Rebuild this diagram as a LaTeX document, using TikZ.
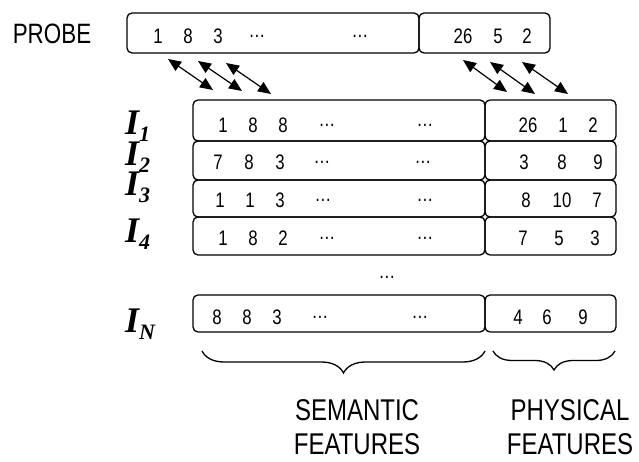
\documentclass[tikz,border=0pt]{standalone}
\usepackage{fontspec}
\setmainfont{Liberation Sans}[FakeStretch=0.8]
\newfontfamily\labelfont{Liberation Serif}
\usetikzlibrary{arrows.meta,decorations.pathreplacing}
\newcommand{\idx}[1]{\raisebox{-7pt}{\fontsize{22}{22}\selectfont #1}}
\tikzset{
  field/.style={draw, line width=1.3pt, rounded corners=5pt, inner sep=0pt},
  num/.style={font=\fontsize{21}{24}\selectfont},
  img/.style={font=\labelfont\bfseries\itshape\fontsize{36}{36}\selectfont, anchor=base west, inner sep=0pt},
  match/.style={{Triangle[length=13pt,width=11pt]}-{Triangle[length=13pt,width=11pt]}, line width=1.2pt},
  feat/.style={font=\fontsize{30}{34}\selectfont, align=center},
  group/.style={decorate, decoration={brace, mirror, amplitude=#1}, line width=1.3pt}
}
\begin{document}
\begin{tikzpicture}[x=1pt,y=-1pt]
\useasboundingbox (0,0) rectangle (639,462);

% probe vector
\node[font=\fontsize{28}{30}\selectfont] (probe) at (52,34) {PROBE};
\node[field, minimum width=292pt, minimum height=40pt] (p-sem) at (273,33) {};
\node[field, minimum width=131pt, minimum height=40pt] (p-phy) at (484.5,33) {};

\node[num] (p1) at (158,36) {1};
\node[num] (p2) at (188,36) {8};
\node[num] (p3) at (218,36) {3};
\node[num] (p4) at (257,36) {…};
\node[num] (p5) at (360,36) {…};
\node[num] (p6) at (463,36) {26};
\node[num] (p7) at (498,36) {5};
\node[num] (p8) at (527,36) {2};

% database images
\node[img] (l1) at (125,135) {I\idx{1}};
\node[img] (l2) at (125,166) {I\idx{2}};
\node[img] (l3) at (125,196) {I\idx{3}};
\node[img] (l4) at (125,242) {I\idx{4}};
\node[img] (lN) at (125,332) {I\idx{N}};

\node[field, minimum width=292pt, minimum height=41pt] (r1-sem) at (339,120.5) {};
\node[field, minimum width=131pt, minimum height=41pt] (r1-phy) at (550.5,120.5) {};
\node[field, minimum width=292pt, minimum height=39pt] (r2-sem) at (339,160.5) {};
\node[field, minimum width=131pt, minimum height=39pt] (r2-phy) at (550.5,160.5) {};
\node[field, minimum width=292pt, minimum height=37pt] (r3-sem) at (339,198.5) {};
\node[field, minimum width=131pt, minimum height=37pt] (r3-phy) at (550.5,198.5) {};
\node[field, minimum width=292pt, minimum height=38pt] (r4-sem) at (339,236) {};
\node[field, minimum width=131pt, minimum height=38pt] (r4-phy) at (550.5,236) {};
\node[field, minimum width=292pt, minimum height=37pt] (rN-sem) at (339,313.5) {};
\node[field, minimum width=131pt, minimum height=37pt] (rN-phy) at (550.5,313.5) {};

\node[num] at (223,125) {1};
\node[num] at (253,125) {8};
\node[num] at (283,125) {8};
\node[num] at (327,125) {…};
\node[num] at (425,125) {…};
\node[num] at (528,125) {26};
\node[num] at (563,125) {1};
\node[num] at (593,125) {2};

\node[num] at (218,162) {7};
\node[num] at (249,162) {8};
\node[num] at (280,162) {3};
\node[num] at (322,162) {…};
\node[num] at (423,162) {…};
\node[num] at (524,162) {3};
\node[num] at (562,162) {8};
\node[num] at (598,162) {9};

\node[num] at (220,200) {1};
\node[num] at (250,200) {1};
\node[num] at (280,200) {3};
\node[num] at (323,200) {…};
\node[num] at (425,200) {…};
\node[num] at (526,200) {8};
\node[num] at (562,200) {10};
\node[num] at (597,200) {7};

\node[num] at (223,238) {1};
\node[num] at (253,238) {8};
\node[num] at (283,238) {2};
\node[num] at (327,238) {…};
\node[num] at (425,238) {…};
\node[num] at (523,238) {7};
\node[num] at (559,238) {5};
\node[num] at (595,238) {3};

\node[num] (gap) at (387,277) {…};

\node[num] at (217,317) {8};
\node[num] at (247,317) {8};
\node[num] at (277,317) {3};
\node[num] at (320,317) {…};
\node[num] at (420,317) {…};
\node[num] at (518,317) {4};
\node[num] at (547,317) {6};
\node[num] at (583,317) {9};

% matching arrows
\coordinate (a1) at (168,59);  \coordinate (b1) at (213,90);
\coordinate (a2) at (198,61);  \coordinate (b2) at (242,91);
\coordinate (a3) at (226,63);  \coordinate (b3) at (271,94);
\coordinate (a4) at (463,60);  \coordinate (b4) at (507,92);
\coordinate (a5) at (490,62);  \coordinate (b5) at (535,94);
\coordinate (a6) at (522,62);  \coordinate (b6) at (568,94);
\draw[match] (a1) -- (b1);
\draw[match] (a2) -- (b2);
\draw[match] (a3) -- (b3);
\draw[match] (a4) -- (b4);
\draw[match] (a5) -- (b5);
\draw[match] (a6) -- (b6);

% feature groups
\coordinate (s1) at (202,351); \coordinate (s2) at (485,351);
\coordinate (f1) at (493,351); \coordinate (f2) at (615,351);
\draw[group=22pt] (s1) -- (s2);
\draw[group=19pt] (f1) -- (f2);

\node[feat] (sem) at (357,427) {SEMANTIC\\FEATURES};
\node[feat] (phy) at (570,427) {PHYSICAL\\FEATURES};
\end{tikzpicture}
\end{document}
